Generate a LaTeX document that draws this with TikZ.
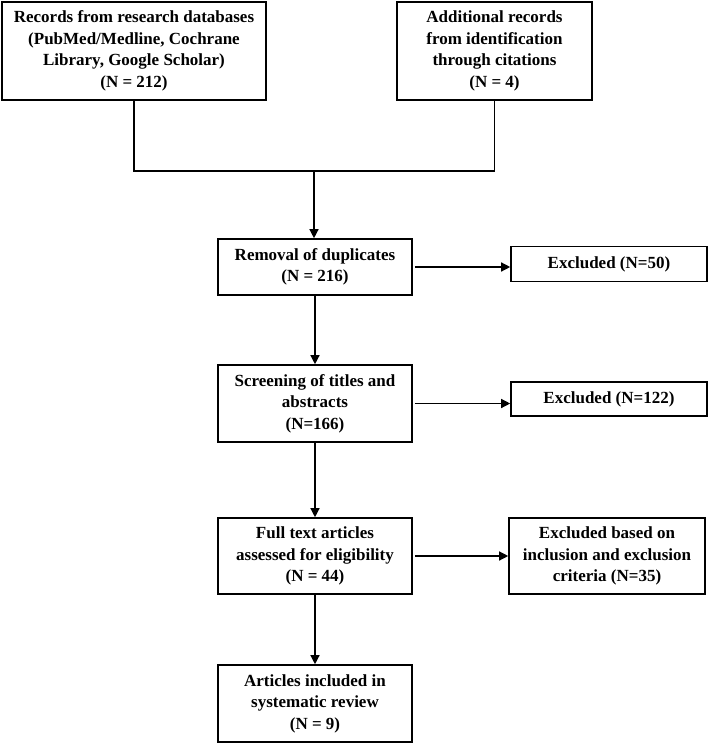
\documentclass[tikz,border=0pt]{standalone}
\usepackage{fontspec}
\setmainfont{Liberation Serif}
\usetikzlibrary{arrows.meta}

\begin{document}
\begin{tikzpicture}[x=1pt,y=-1pt,
    box/.style={draw,line width=1.6pt,align=center,inner sep=0pt,
      font=\fontsize{17}{21.5}\selectfont\bfseries},
    arr/.style={-{Triangle[length=9pt,width=9pt]},line width=1.3pt}]
      \useasboundingbox (0,0) rectangle (709,746);
      \node[box,minimum width=264,minimum height=98] at (134,51) (recdb)
        {Records from research databases \\ (PubMed/Medline, Cochrane \\ Library, Google Scholar) \\ (N = 212)};
      \node[box,minimum width=195,minimum height=98] at (494.5,51) (reccit)
        {Additional records \\ from identification \\ through citations \\ (N = 4)};
      \coordinate (join) at (314,171);
      \node[box,minimum width=194,minimum height=56] at (315,267) (dupl)
        {Removal of duplicates \\ (N = 216)};
      \node[box,minimum width=196,minimum height=35] at (609,264) (excla) {Excluded (N=50)};
      \node[box,minimum width=194,minimum height=77] at (315,403.5) (screen)
        {Screening of titles and \\ abstracts \\ (N=166)};
      \node[box,minimum width=196,minimum height=34] at (609,399) (exclb) {Excluded (N=122)};
      \node[box,minimum width=194,minimum height=76] at (315,556) (full)
        {Full text articles \\ assessed for eligibility \\ (N = 44)};
      \node[box,minimum width=196,minimum height=76] at (607,556) (exclc)
        {Excluded based on \\ inclusion and exclusion \\ criteria (N=35)};
      \node[box,minimum width=194,minimum height=77] at (315,703.5) (incl)
        {Articles included in \\ systematic review \\ (N = 9)};
%      sources merge
      \draw[line width=1.3pt] (recdb.south) |- (join) -| (reccit.south);
      \draw[arr] (join) -- (dupl.north -| join);
      \draw[arr] ([xshift=2pt]dupl.east) -- (dupl.east -| excla.west);
      \draw[arr] (dupl) -- (screen);
      \draw[arr] ([xshift=2pt]screen.east) -- (screen.east -| exclb.west);
      \draw[arr] (screen) -- (full);
      \draw[arr] ([xshift=2pt]full.east) -- (exclc);
      \draw[arr] (full) -- (incl);
   \end{tikzpicture}
\end{document}
